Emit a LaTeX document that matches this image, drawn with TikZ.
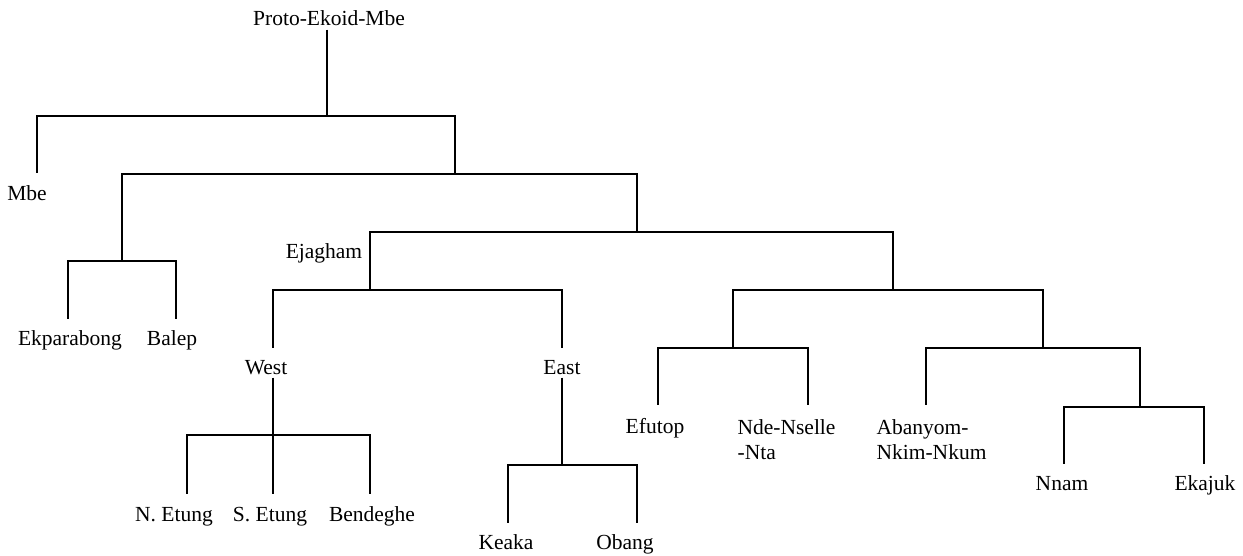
\documentclass[tikz,border=0pt]{standalone}
\usepackage{fontspec}
\setmainfont{Liberation Serif}
\begin{document}
\begin{tikzpicture}[
    x=0.5pt, y=-0.5pt,
    line width=0.6pt,
    lbl/.style={inner sep=0pt, text height=7.5pt, text depth=1.5pt, font=\fontsize{10.75}{12.5}\selectfont},
    lbltwo/.style={inner sep=0pt, align=left, anchor=west, font=\fontsize{10.75}{12.5}\selectfont}
]
\useasboundingbox (0,0) rectangle (1243,556);
% junctions
\coordinate (r) at (327,116);
\coordinate (n1) at (455,174);
\coordinate (n2) at (122,261);
\coordinate (n3) at (637,232);
\coordinate (ej) at (370,290);
\coordinate (w) at (273,435);
\coordinate (e) at (562,465);
\coordinate (n4) at (893,290);
\coordinate (n5) at (733,348);
\coordinate (n6) at (1043,348);
\coordinate (n7) at (1140,407);
% leg ends
\coordinate (mbe-top) at (37,173);
\coordinate (ekp-top) at (68,319);
\coordinate (bal-top) at (176,319);
\coordinate (west-top) at (273,348);
\coordinate (east-top) at (562,348);
\coordinate (net-top) at (187,494);
\coordinate (set-top) at (273,494);
\coordinate (ben-top) at (370,494);
\coordinate (kea-top) at (508,523);
\coordinate (oba-top) at (637,523);
\coordinate (efu-top) at (658,405);
\coordinate (nde-top) at (808,405);
\coordinate (aba-top) at (926,405);
\coordinate (nna-top) at (1064,464);
\coordinate (eka-top) at (1204,464);
% labels
\node[lbl] (root) at (329,20) {Proto-Ekoid-Mbe};
\node[lbl] (mbe) at (27,194) {Mbe};
\node[lbl] (ekp) at (70,339) {Ekparabong};
\node[lbl] (bal) at (172,339) {Balep};
\node[lbl] (ejl) at (324,252) {Ejagham};
\node[lbl] (west) at (266,368) {West};
\node[lbl] (east) at (562,368) {East};
\node[lbl] (net) at (174,515) {N. Etung};
\node[lbl] (set) at (270,515) {S. Etung};
\node[lbl] (ben) at (372,515) {Bendeghe};
\node[lbl] (kea) at (506,543) {Keaka};
\node[lbl] (oba) at (625,543) {Obang};
\node[lbl] (efu) at (655,427) {Efutop};
\node[lbltwo] (nde) at (737,440) {Nde-Nselle\\-Nta};
\node[lbltwo] (aba) at (876,440) {Abanyom-\\Nkim-Nkum};
\node[lbl] (nna) at (1062,484) {Nnam};
\node[lbl] (eka) at (1205,484) {Ekajuk};
% branches
\draw (root.south -| r) -- (r);
\draw (r) -| (mbe-top);
\draw (r) -| (n1);
\draw (n1) -| (n2);
\draw (n1) -| (n3);
\draw (n2) -| (ekp-top);
\draw (n2) -| (bal-top);
\draw (n3) -| (ej);
\draw (n3) -| (n4);
\draw (ej) -| (west-top);
\draw (ej) -| (east-top);
\draw (west.south -| w) -- (w);
\draw (east.south -| e) -- (e);
\draw (w) -| (net-top);
\draw (w) -- (set-top);
\draw (w) -| (ben-top);
\draw (e) -| (kea-top);
\draw (e) -| (oba-top);
\draw (n4) -| (n5);
\draw (n4) -| (n6);
\draw (n5) -| (efu-top);
\draw (n5) -| (nde-top);
\draw (n6) -| (aba-top);
\draw (n6) -| (n7);
\draw (n7) -| (nna-top);
\draw (n7) -| (eka-top);
\end{tikzpicture}
\end{document}
